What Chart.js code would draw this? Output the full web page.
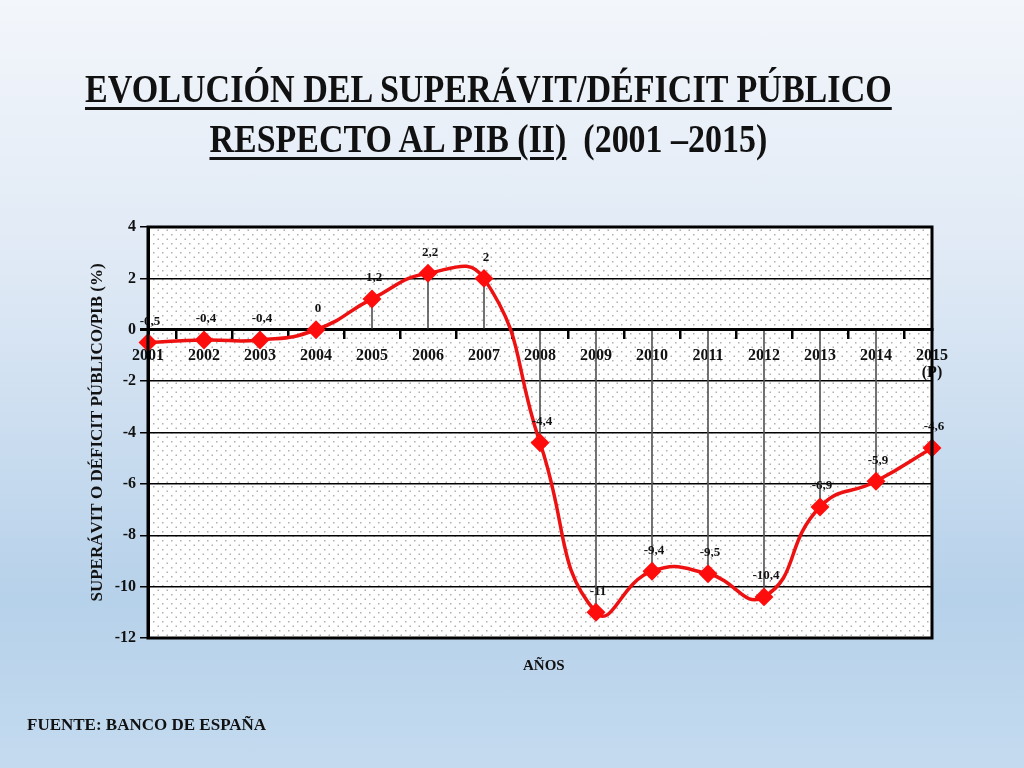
<!DOCTYPE html>
<html>
<head>
<meta charset="utf-8">
<script src="https://cdn.jsdelivr.net/npm/chart.js@4.4.1/dist/chart.umd.min.js"></script>
<style>
  html, body { margin: 0; padding: 0; }
  body {
    width: 1024px; height: 768px; overflow: hidden; position: relative;
    background: linear-gradient(to bottom, #f3f6fb 0%, #dfe9f5 35%, #b6d1ea 78%, #c4dbef 100%);
    font-family: "Liberation Serif", "Times New Roman", serif;
  }
  #grafico { position: absolute; left: 0; top: 0; }
  .titulo {
    position: absolute; left: 0; width: 976px; text-align: center;
    font-weight: bold; font-size: 39px; color: #111; white-space: nowrap;
  }
  .titulo span { display: inline-block; transform-origin: center; }
  .sub { text-decoration: underline; text-decoration-thickness: 3px; text-underline-offset: 5px; }
  #anos { position: absolute; left: 523px; top: 657px; font-weight: bold; font-size: 15px; color: #111; }
  #fuente { position: absolute; left: 27px; top: 715px; font-weight: bold; font-size: 17px; color: #111; }
</style>
</head>
<body>
<canvas id="grafico" width="1024" height="768"></canvas>
<div class="titulo" id="t1" style="top:66px"><span class="sub">EVOLUCIÓN DEL SUPERÁVIT/DÉFICIT PÚBLICO</span></div>
<div class="titulo" id="t2" style="top:116px"><span><span class="sub">RESPECTO AL PIB (II) </span>&nbsp;&nbsp;(2001 –2015)</span></div>
<div id="anos">AÑOS</div>
<div id="fuente">FUENTE: BANCO DE ESPAÑA</div>
<script>
// datos
var anios = ["2001", "2002", "2003", "2004", "2005", "2006", "2007", "2008",
  "2009", "2010", "2011", "2012", "2013", "2014", ["2015", "(P)"]];
var saldo = [-0.5, -0.4, -0.4, 0, 1.2, 2.2, 2, -4.4, -11, -9.4, -9.5, -10.4, -6.9, -5.9, -4.6];
var ticksY = [4, 2, 0, -2, -4, -6, -8, -10, -12];

// ajustar ancho de los titulos (letra condensada)
function ajustar(id, ancho) {
  var s = document.querySelector("#" + id + " > span");
  s.style.transform = "scaleX(" + (ancho / s.offsetWidth) + ")";
}
ajustar("t1", 807);
ajustar("t2", 558);

// fondo punteado del area del grafico
var pat = document.createElement("canvas");
pat.width = 9; pat.height = 9;
var pc = pat.getContext("2d");
pc.fillStyle = "#fff";
pc.fillRect(0, 0, 9, 9);
pc.fillStyle = "#b0b0b0";
pc.fillRect(0, 0, 1.5, 1.5);
pc.fillRect(4.5, 4.5, 1.5, 1.5);

var fondoPunteado = {
  id: "fondoPunteado",
  beforeDraw: function (chart) {
    var a = chart.chartArea, c = chart.ctx;
    c.save();
    c.fillStyle = c.createPattern(pat, "repeat");
    c.fillRect(a.left, a.top, a.right - a.left, a.bottom - a.top);
    c.restore();
  },
  afterDraw: function (chart) {
    var a = chart.chartArea, c = chart.ctx;
    c.save();
    c.strokeStyle = "#000";
    c.lineWidth = 3;
    c.strokeRect(a.left, a.top, a.right - a.left, a.bottom - a.top);
    c.restore();
  }
};

// etiquetas de valores sobre los puntos
var etiquetas = {
  id: "etiquetas",
  afterDatasetsDraw: function (chart) {
    var meta = chart.getDatasetMeta(1), c = chart.ctx;
    c.save();
    c.font = "bold 13px 'Liberation Serif'";
    c.fillStyle = "#111";
    c.textAlign = "center";
    c.textBaseline = "middle";
    meta.data.forEach(function (p, i) {
      c.fillText(String(saldo[i]).replace(".", ","), p.x + 2, p.y - 21);
    });
    c.restore();
  }
};

var ctx = document.getElementById("grafico").getContext("2d");
var myChart = new Chart(ctx, {
  data: {
    labels: anios,
    datasets: [
      {
        type: "bar",
        data: saldo,
        backgroundColor: "#555",
        barThickness: 1,
        order: 2
      },
      {
        type: "line",
        data: saldo,
        borderColor: "#ee1111",
        borderWidth: 3.5,
        tension: 0.5,
        pointStyle: "rectRot",
        pointRadius: 7,
        pointBackgroundColor: "#ff0d0d",
        pointBorderColor: "#ff0d0d",
        clip: false,
        order: 1
      }
    ]
  },
  options: {
    responsive: false,
    animation: false,
    layout: { padding: { left: 83, right: 92, top: 227, bottom: 130 } },
    plugins: { legend: { display: false }, tooltip: { enabled: false } },
    scales: {
      x: {
        type: "category",
        offset: false,
        position: { y: 0 },
        grid: { drawOnChartArea: false, color: "#000", lineWidth: 2.5, tickLength: 8 },
        border: { color: "#000", width: 3 },
        ticks: {
          color: "#111",
          maxRotation: 0,
          autoSkip: false,
          padding: 9,
          font: { family: "Liberation Serif", weight: "bold", size: 16, lineHeight: 1.1 }
        }
      },
      y: {
        min: -12,
        max: 4,
        afterBuildTicks: function (s) { s.ticks = ticksY.map(function (v) { return { value: v }; }); },
        afterFit: function (s) { s.width = 65; },
        grid: {
          color: "#000",
          lineWidth: function (c) { return c.tick && c.tick.value === 0 ? 3 : 1.5; },
          tickLength: 8
        },
        border: { color: "#000", width: 3 },
        ticks: {
          color: "#111",
          padding: 4,
          font: { family: "Liberation Serif", weight: "bold", size: 16 }
        },
        title: {
          display: true,
          text: "SUPERÁVIT O DÉFICIT PÚBLICO/PIB (%)",
          color: "#111",
          padding: 4,
          font: { family: "Liberation Serif", weight: "bold", size: 17 }
        }
      }
    }
  },
  plugins: [fondoPunteado, etiquetas]
});
</script>
</body>
</html>
